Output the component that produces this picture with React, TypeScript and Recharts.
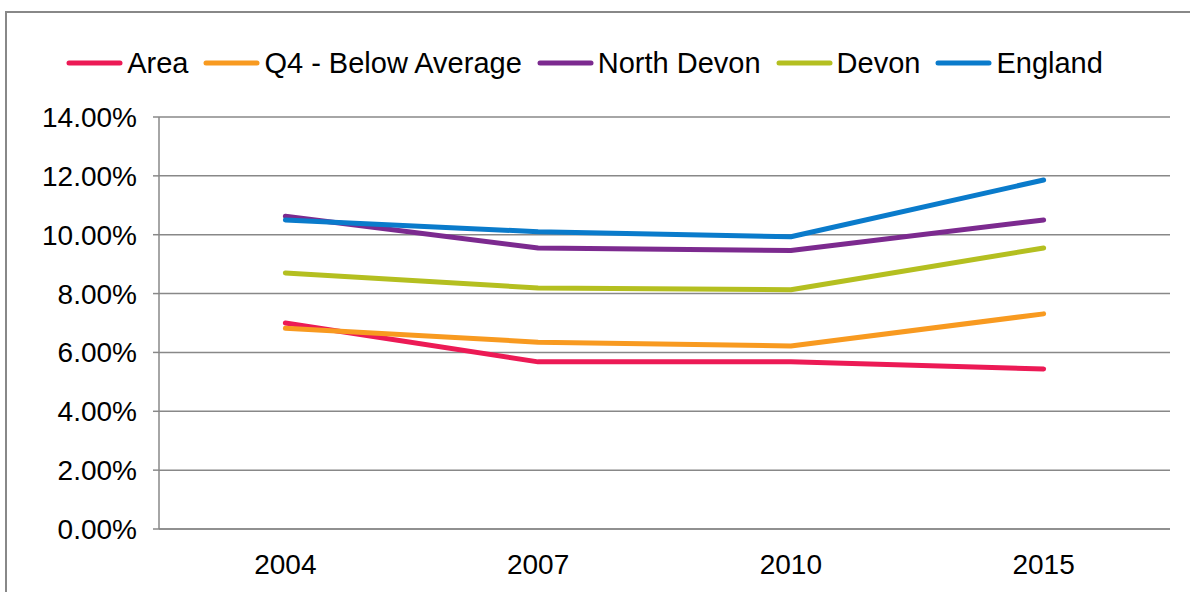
import { LineChart, Line, XAxis, YAxis, CartesianGrid } from 'recharts';

const years = ['2004', '2007', '2010', '2015'];
const area = [7.0, 5.68, 5.68, 5.44];
const q4BelowAverage = [6.82, 6.35, 6.22, 7.31];
const northDevon = [10.63, 9.55, 9.46, 10.5];
const devon = [8.7, 8.19, 8.13, 9.55];
const england = [10.5, 10.1, 9.93, 11.86];
const yTicks = [0, 2, 4, 6, 8, 10, 12, 14];
const bandEdges = [0, 1, 2, 3, 4];

const SERIES = [
  { key: 'area', name: 'Area', values: area, color: '#EC1A55' },
  { key: 'q4', name: 'Q4 - Below Average', values: q4BelowAverage, color: '#F89A20' },
  { key: 'northDevon', name: 'North Devon', values: northDevon, color: '#7C2A8F' },
  { key: 'devon', name: 'Devon', values: devon, color: '#B4BF20' },
  { key: 'england', name: 'England', values: england, color: '#0A7BCB' },
];

const data = years.map((year, i) => {
  const row: Record<string, string | number> = { year };
  SERIES.forEach((s) => {
    row[s.key] = s.values[i];
  });
  return row;
});

const GRID = '#888888';
const FONT = '"Liberation Sans", Arial, sans-serif';

export default function App() {
  return (
    <div
      style={{
        position: 'absolute',
        left: 0,
        top: 0,
        width: 1190,
        height: 592,
        overflow: 'hidden',
        background: '#fff',
        fontFamily: FONT,
      }}
    >
      {/* outer chart frame, right/bottom edges fall outside the picture */}
      <div
        style={{
          position: 'absolute',
          left: 5,
          top: 11,
          width: 1210,
          height: 620,
          border: `2px solid ${GRID}`,
          boxSizing: 'border-box',
        }}
      />

      {/* legend */}
      <div
        style={{
          position: 'absolute',
          left: 0,
          top: 46,
          width: 1184,
          display: 'flex',
          justifyContent: 'center',
          alignItems: 'center',
          fontSize: 29,
          color: '#000',
          lineHeight: '34px',
        }}
      >
        {SERIES.map((s) => (
          <div key={s.key} style={{ display: 'flex', alignItems: 'center', marginRight: 15 }}>
            <svg width={57} height={8} style={{ marginRight: 4 }}>
              <line x1={3} y1={4} x2={54} y2={4} stroke={s.color} strokeWidth={5} strokeLinecap="round" />
            </svg>
            <span>{s.name}</span>
          </div>
        ))}
      </div>

      <div style={{ position: 'absolute', left: 0, top: 0 }}>
        <LineChart
          width={1190}
          height={592}
          data={data}
          margin={{ top: 117, right: 20, bottom: 22, left: 0 }}
        >
          <CartesianGrid vertical={false} stroke={GRID} strokeWidth={1.5} />
          {/* default-id axis sits right on the plot edge: carries the line and band-edge ticks */}
          <XAxis
            type="number"
            domain={[0, 4]}
            ticks={bandEdges}
            tick={false}
            height={1}
            axisLine={{ stroke: GRID, strokeWidth: 1.5 }}
            tickLine={{ stroke: GRID, strokeWidth: 1.5 }}
            tickSize={7}
          />
          <XAxis
            xAxisId="years"
            dataKey="year"
            scale="band"
            height={40}
            axisLine={false}
            tickLine={false}
            tickMargin={18}
            tick={{ fill: '#000', fontSize: 28, fontFamily: FONT }}
          />
          <YAxis
            width={159}
            domain={[0, 14]}
            ticks={yTicks}
            interval={0}
            tickFormatter={(v: number) => `${v.toFixed(2)}%`}
            axisLine={{ stroke: GRID, strokeWidth: 1.5 }}
            tickLine={{ stroke: GRID, strokeWidth: 1.5 }}
            tickSize={6}
            tickMargin={16}
            tick={{ fill: '#000', fontSize: 28, fontFamily: FONT }}
          />
          {SERIES.map((s) => (
            <Line
              key={s.key}
              xAxisId="years"
              dataKey={s.key}
              name={s.name}
              type="linear"
              stroke={s.color}
              strokeWidth={5}
              strokeLinecap="round"
              strokeLinejoin="round"
              dot={false}
              activeDot={false}
              isAnimationActive={false}
            />
          ))}
        </LineChart>
      </div>
    </div>
  );
}
